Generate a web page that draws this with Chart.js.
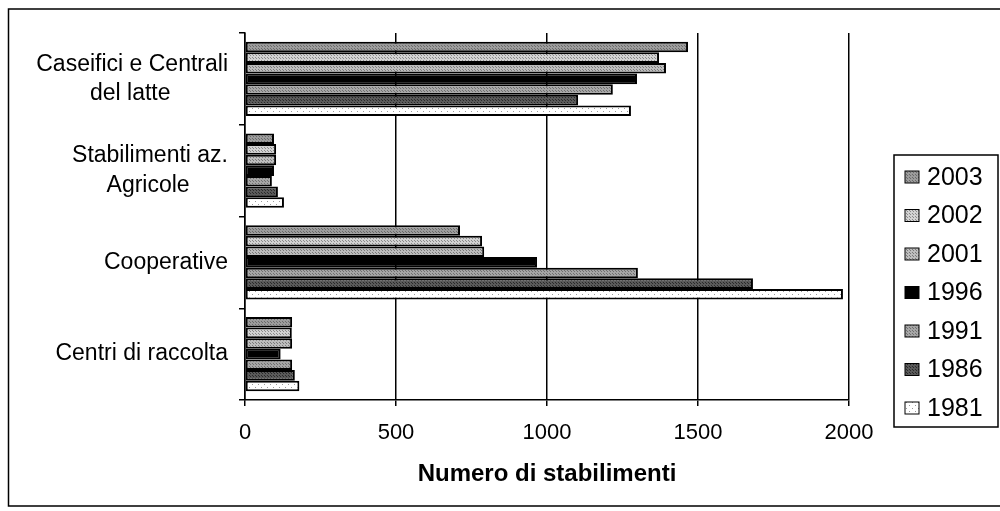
<!DOCTYPE html>
<html>
<head>
<meta charset="utf-8">
<script src="https://cdn.jsdelivr.net/npm/chart.js@4"></script>
<style>
  html, body { margin: 0; padding: 0; background: #fff; }
  #wrap { width: 1000px; height: 511px; }
</style>
</head>
<body>
<div id="wrap"><canvas id="chart" width="1000" height="511"></canvas></div>
<script>
// categories (top to bottom)
var categories = [
  ['Caseifici e Centrali', 'del latte         '],
  ['Stabilimenti az.', 'Agricole      '],
  'Cooperative',
  'Centri di raccolta'
];
var years = ['2003', '2002', '2001', '1996', '1991', '1986', '1981'];

// values per year, same order as categories
var v2003 = [1467, 96, 712, 156];
var v2002 = [1371, 103, 785, 155];
var v2001 = [1394, 103, 792, 156];
var v1996 = [1298, 96, 967, 118];
var v1991 = [1218, 89, 1301, 156];
var v1986 = [1103, 109, 1682, 165];
var v1981 = [1278, 129, 1980, 180];
var xTicks = [0, 500, 1000, 1500, 2000];

// small dotted fills, like the old printed greys
function makePattern(base, dot, step) {
  var c = document.createElement('canvas');
  c.width = step; c.height = step;
  var g = c.getContext('2d');
  g.fillStyle = base;
  g.fillRect(0, 0, step, step);
  g.fillStyle = dot;
  g.fillRect(0, 0, 1, 1);
  g.fillRect(Math.floor(step / 2), Math.floor(step / 2), 1, 1);
  return g.createPattern(c, 'repeat');
}

var fills = [
  makePattern('#9c9c9c', '#6a6a6a', 3),
  makePattern('#d2d2d2', '#8a8a8a', 3),
  makePattern('#bdbdbd', '#7a7a7a', 3),
  '#000000',
  makePattern('#a6a6a6', '#707070', 3),
  makePattern('#5a5a5a', '#2a2a2a', 3),
  makePattern('#ffffff', '#9a9a9a', 6)
];
var series = [v2003, v2002, v2001, v1996, v1991, v1986, v1981];

var datasets = [];
for (var i = 0; i < years.length; i++) {
  datasets.push({
    label: years[i],
    data: series[i],
    backgroundColor: fills[i],
    borderColor: '#000',
    borderWidth: 2,
    borderSkipped: false,
    categoryPercentage: 0.81,
    barPercentage: 1.0
  });
}

var font = 'Liberation Sans, Arial, sans-serif';

// white page, outer frame and the boxed legend
var framePlugin = {
  id: 'frame',
  beforeDraw: function(chart) {
    var ctx = chart.ctx;
    ctx.save();
    ctx.fillStyle = '#fff';
    ctx.fillRect(0, 0, chart.width, chart.height);
    ctx.restore();
  },
  afterDraw: function(chart) {
    var ctx = chart.ctx;
    ctx.save();
    ctx.strokeStyle = '#000';
    ctx.lineWidth = 1.5;
    ctx.beginPath();
    ctx.moveTo(1000, 9);
    ctx.lineTo(8.5, 9);
    ctx.lineTo(8.5, 506);
    ctx.lineTo(1000, 506);
    ctx.stroke();

    // legend
    ctx.strokeRect(894, 155, 104, 272);
    ctx.font = '25px ' + font;
    ctx.textBaseline = 'middle';
    ctx.textAlign = 'left';
    var ds = chart.data.datasets;
    for (var i = 0; i < ds.length; i++) {
      var y = 177 + i * 38.5;
      ctx.fillStyle = ds[i].backgroundColor;
      ctx.fillRect(905, y - 6, 14, 12);
      ctx.lineWidth = 1;
      ctx.strokeRect(905, y - 6, 14, 12);
      ctx.fillStyle = '#000';
      ctx.fillText(ds[i].label, 927, y + 1);
    }
    ctx.restore();
  }
};

new Chart(document.getElementById('chart'), {
  type: 'bar',
  data: { labels: categories, datasets: datasets },
  options: {
    indexAxis: 'y',
    responsive: false,
    animation: false,
    layout: { padding: { left: 0, right: 151, top: 33, bottom: 0 } },
    plugins: {
      legend: { display: false },
      tooltip: { enabled: false }
    },
    scales: {
      x: {
        min: 0,
        max: 2000,
        afterBuildTicks: function(scale) {
          scale.ticks = xTicks.map(function(v) { return { value: v }; });
        },
        afterFit: function(scale) { scale.height = 111; },
        grid: {
          color: '#000',
          lineWidth: 1.5,
          drawTicks: true,
          tickLength: 6,
          tickColor: '#000'
        },
        border: { display: true, color: '#000', width: 1.5 },
        ticks: {
          color: '#000',
          font: { family: font, size: 22 },
          padding: 14,
          maxRotation: 0,
          callback: function(v) { return String(v); }
        },
        title: {
          display: true,
          text: 'Numero di stabilimenti',
          color: '#000',
          font: { family: font, size: 24, weight: 'bold' },
          padding: { top: 22, bottom: 22 }
        }
      },
      y: {
        afterFit: function(scale) { scale.width = 245; },
        grid: {
          drawOnChartArea: false,
          drawTicks: true,
          tickLength: 6,
          color: '#000',
          lineWidth: 1.5
        },
        border: { display: true, color: '#000', width: 1.5 },
        ticks: {
          color: '#000',
          crossAlign: 'near',
          padding: 11,
          font: { family: font, size: 23, lineHeight: 1.27 }
        }
      }
    }
  },
  plugins: [framePlugin]
});
</script>
</body>
</html>
